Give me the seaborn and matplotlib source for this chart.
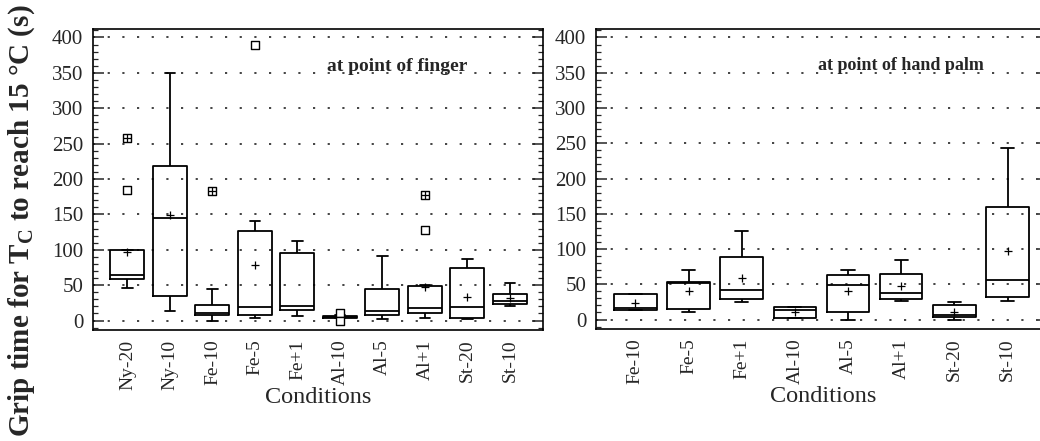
import numpy as np
import pandas as pd
import seaborn as sns
import matplotlib.pyplot as plt
from matplotlib.ticker import MultipleLocator

# ---------------- data ----------------
finger_conditions = ["Ny-20", "Ny-10", "Fe-10", "Fe-5", "Fe+1",
                     "Al-10", "Al-5", "Al+1", "St-20", "St-10"]
finger_low    = [46, 13, 0, 3, 7, 3, 2, 3, 2, 21]
finger_q1     = [58, 34, 8, 8, 15, 4, 8, 11, 4, 24]
finger_median = [64, 145, 10, 19, 20.5, 5, 14, 18, 19, 28]
finger_q3     = [100, 218, 22, 127, 95, 6.5, 44, 49, 74, 37]
finger_high   = [100, 350, 44, 140, 113, 7.5, 91, 50, 87, 53]
finger_mean   = [97, 149, np.nan, 79, np.nan, 6, np.nan, 47, 33, 31.5]
finger_outlier_cond  = ["Ny-20", "Ny-20", "Fe-10", "Fe-5", "Al-10", "Al-10", "Al+1", "Al+1"]
finger_outlier_value = [258, 185, 183, 390, 10, 0, 177, 128]
finger_outlier_kind  = ["far", "near", "far", "near", "near", "near", "far", "near"]

palm_conditions = ["Fe-10", "Fe-5", "Fe+1", "Al-10", "Al-5", "Al+1", "St-20", "St-10"]
palm_low    = [14, 10.5, 24.5, 2.4, 0, 26.5, 0, 27]
palm_q1     = [14, 15, 29, 2.4, 10, 29, 4, 32]
palm_median = [16.5, 52, 42, 14, 48.5, 37.5, 6, 56.5]
palm_q3     = [36.5, 53, 88.5, 18, 63, 65, 21, 160]
palm_high   = [36.5, 70.5, 126, 18, 70, 85, 25, 243]
palm_mean   = [23.5, 40, 59, 11, 40, 47, 11, 97]

panel_titles = ["at point of finger", "at point of hand palm"]
y_ticks = [0, 50, 100, 150, 200, 250, 300, 350, 400]


def five_number_frame(conds, lo, q1, med, q3, hi):
    rows = []
    for c, a, b, m, d, e in zip(conds, lo, q1, med, q3, hi):
        for v in (a, b, m, d, e):
            rows.append({"condition": c, "value": v})
    return pd.DataFrame(rows)


sns.set_style("ticks")
plt.rcParams["font.family"] = ["Liberation Serif", "DejaVu Serif"]
plt.rcParams["mathtext.fontset"] = "custom"
plt.rcParams["mathtext.rm"] = "Liberation Serif:bold"
plt.rcParams["mathtext.it"] = "Liberation Serif:bold"

fig = plt.figure(figsize=(10.4, 4.41), dpi=100)
ax1 = fig.add_axes([93 / 1040, 1 - 330 / 441, 450 / 1040, 301 / 441])
ax2 = fig.add_axes([596 / 1040, 1 - 329 / 441, 453 / 1040, 300 / 441])

panels = [
    (ax1, finger_conditions, finger_low, finger_q1, finger_median, finger_q3,
     finger_high, finger_mean, (-0.81, 9.78), panel_titles[0], 14, (0.676, 0.874)),
    (ax2, palm_conditions, palm_low, palm_q1, palm_median, palm_q3,
     palm_high, palm_mean, (-0.74, 7.78), panel_titles[1], 13, (0.674, 0.877)),
]

for (ax, conds, lo, q1, med, q3, hi, mean, xl, title, tfs, tpos) in panels:
    df = five_number_frame(conds, lo, q1, med, q3, hi)
    sns.boxplot(data=df, x="condition", y="value", order=conds, whis=(0, 100),
                width=0.8, fill=False, color="black", linewidth=1.3,
                showfliers=False, capwidths=0.25, ax=ax)
    mdf = pd.DataFrame({"condition": conds, "value": mean}).dropna()
    sns.stripplot(data=mdf, x="condition", y="value", order=conds, jitter=False,
                  marker="+", color="black", size=6, linewidth=0.9, ax=ax)
    ax.set_xlim(*xl)
    ax.set_ylim(-13.4, 412)
    ax.set_yticks(y_ticks)
    ax.yaxis.set_minor_locator(MultipleLocator(10))
    ax.yaxis.grid(True, which="major", linestyle=(0, (1.3, 7.5)),
                  color="#222222", linewidth=1.2)
    ax.set_axisbelow(True)
    for s in ax.spines.values():
        s.set_visible(True)
        s.set_linewidth(1.2)
        s.set_color("black")
    ax.tick_params(axis="y", which="major", direction="in", length=8, width=1.1,
                   right=True, labelsize=15, pad=7)
    ax.tick_params(axis="y", which="minor", direction="in", length=3.5, width=0.9,
                   right=True)
    ax.tick_params(axis="x", length=0, labelsize=14, pad=7, labelrotation=90)
    ax.set_ylabel("")
    ax.set_xlabel("Conditions", fontsize=17.5)
    ax.xaxis.set_label_coords(0.502, -0.19)
    ax.text(tpos[0], tpos[1], title, transform=ax.transAxes, ha="center",
            va="center", fontsize=tfs, fontweight="bold")

# outliers in the finger panel
odf = pd.DataFrame({"condition": finger_outlier_cond, "value": finger_outlier_value,
                    "kind": finger_outlier_kind})
sns.stripplot(data=odf, x="condition", y="value", order=finger_conditions,
              jitter=False, marker="s", color="white", edgecolor="black",
              linewidth=1.0, size=6, ax=ax1)
sns.stripplot(data=odf[odf["kind"] == "far"], x="condition", y="value",
              order=finger_conditions, jitter=False, marker="+", color="black",
              size=6, linewidth=0.9, ax=ax1)
ax1.set_xlim(-0.81, 9.78)
ax1.set_xlabel("Conditions", fontsize=17.5)
ax1.set_ylabel("")

fig.text(0.021, 0.5, "Grip time for T$_\\mathrm{C}$ to reach 15 °C (s)",
         rotation=90, ha="center", va="center", fontsize=21, fontweight="bold")

fig.savefig("out.png", dpi=100)
